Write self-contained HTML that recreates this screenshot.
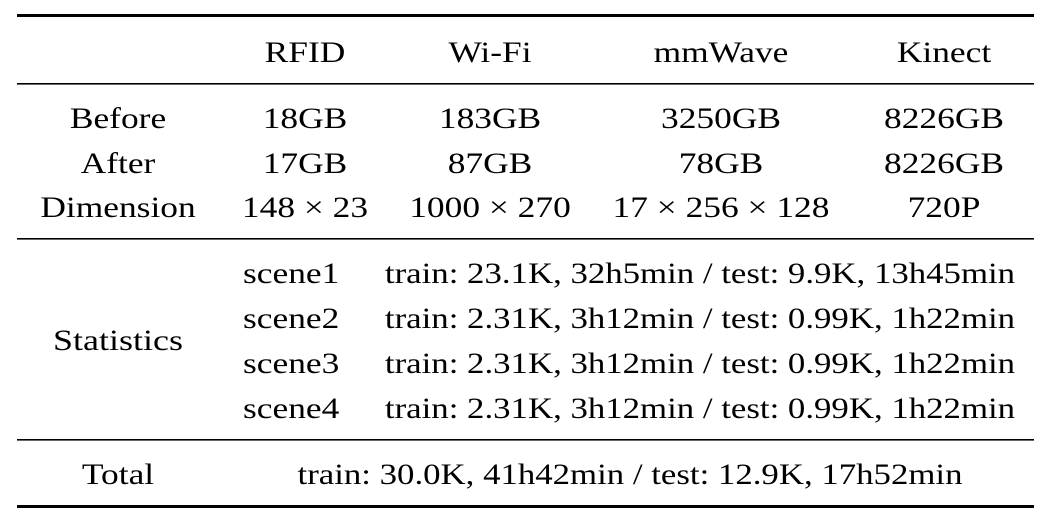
<!DOCTYPE html>
<html><head><style>html,body{margin:0;padding:0;background:#fff}svg{display:block}</style></head>
<body>
<svg width="1053" height="519" xmlns="http://www.w3.org/2000/svg" font-family="'Liberation Serif', serif" font-size="29.5" fill="#000">
<rect x="17" y="14" width="1017" height="3"/>
<rect x="17" y="83" width="1017" height="1.6"/>
<rect x="17" y="238" width="1017" height="1.6"/>
<rect x="17" y="439" width="1017" height="1.6"/>
<rect x="17" y="505" width="1017" height="3"/>
<g text-anchor="middle">
<text transform="translate(305 62) scale(1.2 1)">RFID</text>
<text transform="translate(490 62) scale(1.2 1)">Wi-Fi</text>
<text transform="translate(721 62) scale(1.2 1)">mmWave</text>
<text transform="translate(944 62) scale(1.2 1)">Kinect</text>
<text transform="translate(118 128) scale(1.2 1)">Before</text>
<text transform="translate(118 173) scale(1.2 1)">After</text>
<text transform="translate(118 217) scale(1.2 1)">Dimension</text>
<text transform="translate(305 128) scale(1.2 1)">18GB</text>
<text transform="translate(305 173) scale(1.2 1)">17GB</text>
<text transform="translate(305 217) scale(1.2 1)">148 × 23</text>
<text transform="translate(490 128) scale(1.2 1)">183GB</text>
<text transform="translate(490 173) scale(1.2 1)">87GB</text>
<text transform="translate(490 217) scale(1.2 1)">1000 × 270</text>
<text transform="translate(721 128) scale(1.2 1)">3250GB</text>
<text transform="translate(721 173) scale(1.2 1)">78GB</text>
<text transform="translate(721 217) scale(1.2 1)">17 × 256 × 128</text>
<text transform="translate(944 128) scale(1.2 1)">8226GB</text>
<text transform="translate(944 173) scale(1.2 1)">8226GB</text>
<text transform="translate(944 217) scale(1.2 1)">720P</text>
<text transform="translate(118 350) scale(1.22 1)">Statistics</text>
<text transform="translate(118 484) scale(1.2 1)">Total</text>
<text transform="translate(630 484) scale(1.18 1)">train: 30.0K, 41h42min / test: 12.9K, 17h52min</text>
<text transform="translate(700 283) scale(1.18 1)">train: 23.1K, 32h5min / test: 9.9K, 13h45min</text>
<text transform="translate(700 328) scale(1.18 1)">train: 2.31K, 3h12min / test: 0.99K, 1h22min</text>
<text transform="translate(700 373) scale(1.18 1)">train: 2.31K, 3h12min / test: 0.99K, 1h22min</text>
<text transform="translate(700 418) scale(1.18 1)">train: 2.31K, 3h12min / test: 0.99K, 1h22min</text>
</g>
<g>
<text transform="translate(243 283) scale(1.2 1)">scene1</text>
<text transform="translate(243 328) scale(1.2 1)">scene2</text>
<text transform="translate(243 373) scale(1.2 1)">scene3</text>
<text transform="translate(243 418) scale(1.2 1)">scene4</text>
</g>
</svg>
</body></html>
